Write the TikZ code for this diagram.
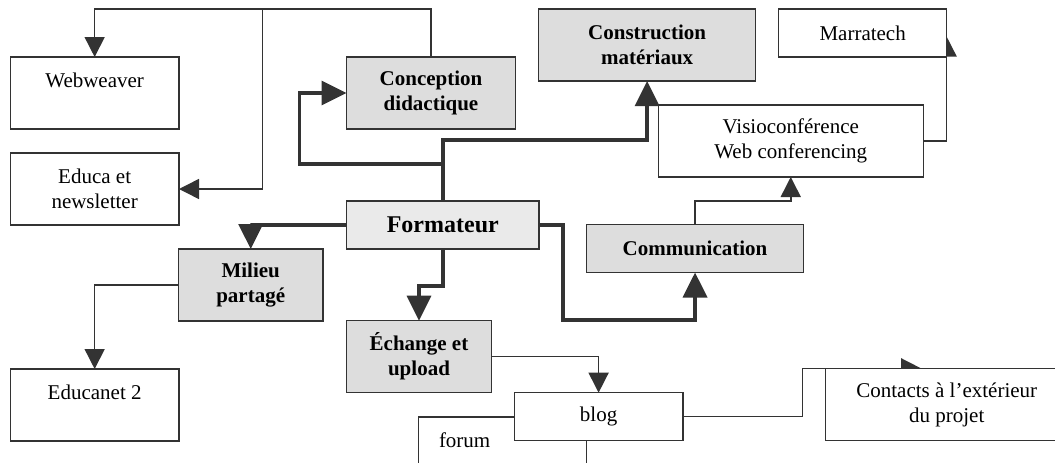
\documentclass[tikz,border=0pt]{standalone}
\usepackage{fontspec}
\setmainfont{Liberation Serif}
\usetikzlibrary{arrows.meta,backgrounds}
\definecolor{lc}{RGB}{51,51,51}
\definecolor{gfill}{RGB}{221,221,221}
\definecolor{ffill}{RGB}{234,234,234}
\tikzset{
  box/.style={draw=lc, line width=1.3pt, fill=white, inner sep=0pt, outer sep=0pt,
    align=center, text=black, font=\fontsize{21}{25}\selectfont},
  gbox/.style={box, fill=gfill, font=\fontsize{21}{25}\selectfont\bfseries},
  conn/.style={draw=lc, line width=1.5pt, -{Triangle[length=20pt,width=20pt]}},
  tconn/.style={draw=lc, line width=3.5pt, -{Triangle[length=25pt,width=24pt]}},
  plain/.style={inner sep=0pt, outer sep=0pt, text=black, font=\fontsize{21}{25}\selectfont}
}
\begin{document}
\begin{tikzpicture}[x=1pt,y=-1pt]
\useasboundingbox (0,0) rectangle (1055,463);
\clip (0,0) rectangle (1055,463);
% boxes
\node[box, minimum width=168.7pt, minimum height=72pt] (web) at (94.65,93) {Webweaver\\\mbox{}};
\node[box, minimum width=168.7pt, minimum height=72pt] (educa) at (94.65,189) {Educa et\\newsletter};
\node[gbox, minimum width=169pt, minimum height=72pt] (concep) at (431,93) {Conception\\didactique};
\node[gbox, minimum width=216.6pt, minimum height=72pt] (constr) at (647.1,45) {Construction\\matériaux};
\node[box, minimum width=168.1pt, minimum height=48pt] (marr) at (862.65,33) {Marratech};
\node[box, minimum width=265.1pt, minimum height=72pt] (visio) at (790.75,141) {Visioconférence\\Web conferencing};
\node[box, fill=ffill, font=\fontsize{24}{28}\selectfont\bfseries, minimum width=192.2pt, minimum height=48pt] (form) at (442.8,225) {Formateur};
\node[gbox, minimum width=216.7pt, minimum height=48pt] (comm) at (695.05,248.5) {Communication};
\node[gbox, minimum width=144.6pt, minimum height=72pt] (milieu) at (250.7,285) {Milieu\\partagé};
\node[gbox, minimum width=145pt, minimum height=72pt] (echange) at (419,356.7) {Échange et\\upload};
\node[box, minimum width=168.7pt, minimum height=72pt] (educanet) at (94.65,405) {Educanet 2\\\mbox{}};
\node[box, minimum width=168.3pt, minimum height=72pt] (forum) at (502.55,453) {};
\node[plain, anchor=base west] (forumlbl) at (439,447.6) {forum};
\node[box, minimum width=168.8pt, minimum height=48pt] (blog) at (598.6,416.7) {blog};
\node[box, minimum width=242.5pt, minimum height=72pt] (contacts) at (946.75,404.5) {Contacts à l’extérieur\\du projet};
% helper coordinates
\coordinate (topL) at (94.65,9);
\coordinate (br) at (262.7,9);
\coordinate (j1) at (442.8,164);
\coordinate (j2) at (299.6,164);
\coordinate (k1) at (563,320);
\coordinate (marrtip) at (946.7,36.7);
\coordinate (c1) at (802.5,368.3);
\coordinate (ctip) at (921,368.3);
\begin{pgfonlayer}{background}
\draw[conn] (concep.north) |- (topL) -- (web.north);
\draw[conn] (br) |- (educa.east);
\draw[tconn] (form.north) -- (j1) -- (j2) |- (concep.west);
\draw[tconn] (j1) -- ++(0,-24) -| (constr.south);
\draw[tconn] (form.west) -| (milieu.north);
\draw[tconn] (form.south) -- ++(0,37) -| (echange.north);
\draw[tconn] (form.east) -| (k1) -| (comm.south);
\draw[conn] (comm.north) -- ++(0,-23.5) -| (visio.south);
\draw[conn] (visio.east) -| (marrtip);
\draw[conn] (milieu.west) -| (educanet.north);
\draw[conn] (echange.east) -| (blog.north);
\draw[conn] (blog.east) -| (c1) -- (ctip);
\end{pgfonlayer}
\end{tikzpicture}
\end{document}
